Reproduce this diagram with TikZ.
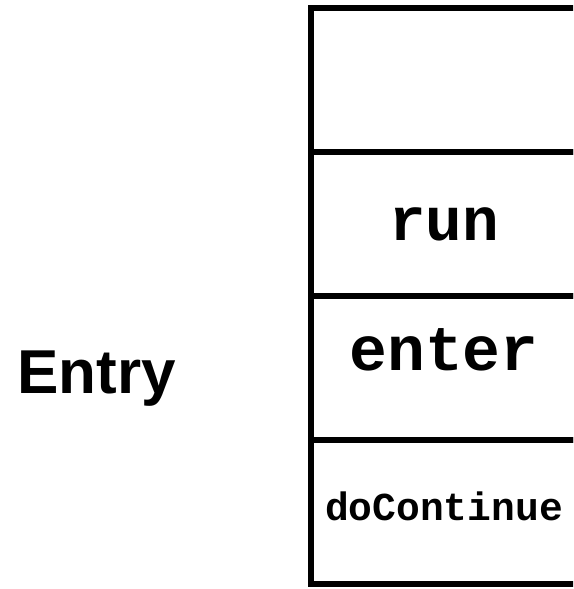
\documentclass[tikz,border=0pt]{standalone}
\usepackage{fontspec}
\setsansfont{Liberation Sans}
\setmonofont{Liberation Mono}
\usetikzlibrary{positioning}

\tikzset{
  cell/.style={draw, line width=2.75pt, minimum width=133pt, minimum height=72pt,
    inner sep=0pt, outer sep=0pt},
  code/.style={anchor=base, inner sep=0pt},
}

\begin{document}
\begin{tikzpicture}[x=0.5pt,y=-0.5pt]
  \useasboundingbox (0,0) rectangle (573,589);
  \clip (0,0) rectangle (573,589);

  % the stack of frames
  \node[cell] (frame1) at (444,80) {};
  \node[cell, below=0pt of frame1] (frame2) {};
  \node[cell, below=0pt of frame2] (frame3) {};
  \node[cell, below=0pt of frame3] (frame4) {};

  % what sits in each frame
  \node[code, font=\ttfamily\bfseries\fontsize{30.5}{36}\selectfont] (run) at ([yshift=-8pt]frame2.center) {run};
  \node[code, font=\ttfamily\bfseries\fontsize{31.5}{37}\selectfont] (enter) at ([yshift=-1pt]frame3.center) {enter};
  \node[code, font=\ttfamily\bfseries\fontsize{19.8}{24}\selectfont] (cont) at ([yshift=-4pt]frame4.center) {doContinue};

  \node[anchor=base west, inner sep=0pt, font=\sffamily\bfseries\fontsize{31}{37}\selectfont] (entry) at (17,393) {Entry};
\end{tikzpicture}
\end{document}
